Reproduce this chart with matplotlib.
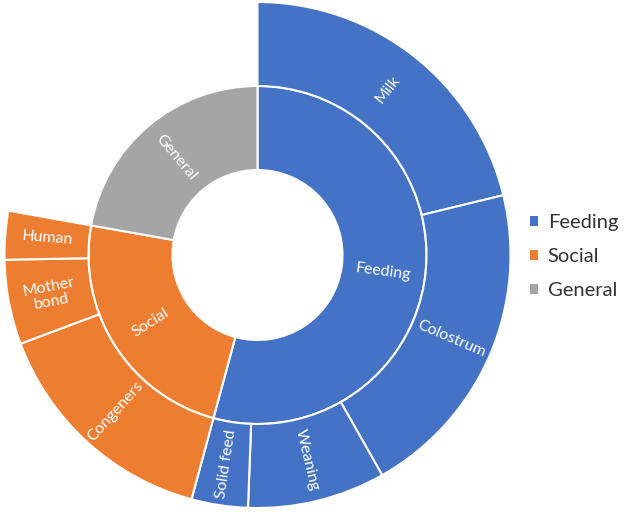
import matplotlib.pyplot as plt
from matplotlib.patches import Patch
import numpy as np

plt.rcParams['font.family'] = ['Lato', 'DejaVu Sans']

# inner ring
groups = ['Feeding', 'Social', 'General']
group_colors = ['#4472C4', '#ED7D31', '#A5A5A5']

# outer ring (share of total, %)
sub_labels = ['Milk', 'Colostrum', 'Weaning', 'Solid feed',
              'Congeners', 'Mother\nbond', 'Human']
sub_values = [21.2, 20.6, 8.8, 3.6, 15.1, 5.4, 3.1]
sub_parent = [0, 0, 0, 0, 1, 1, 1]
general_value = 22.2

group_values = [sum(v for v, p in zip(sub_values, sub_parent) if p == i) for i in range(2)]
group_values.append(general_value)

fig = plt.figure(figsize=(6.24, 5.12), dpi=100)
R = 253
cx, cy = 257.5, 255
ax = fig.add_axes([(cx - R) / 624, (512 - cy - R) / 512, 2 * R / 624, 2 * R / 512])

r_hole = 85 / R
r_mid = 169 / R

# inner ring
inner, _ = ax.pie(group_values, radius=r_mid, colors=group_colors,
                  startangle=90, counterclock=False,
                  wedgeprops=dict(width=r_mid - r_hole, edgecolor='white', linewidth=1.5))

# outer ring, last slot left empty for General
outer_vals = sub_values + [general_value]
outer_cols = [group_colors[p] for p in sub_parent] + ['white']
outer, _ = ax.pie(outer_vals, radius=1.0, colors=outer_cols,
                  startangle=90, counterclock=False,
                  wedgeprops=dict(width=1.0 - r_mid, edgecolor='white', linewidth=1.5))
outer[-1].set_visible(False)


def put_label(wedge, text, r):
    mid = (wedge.theta1 + wedge.theta2) / 2.0
    rot = mid % 360
    if rot > 180:
        rot -= 360
    if rot > 90:
        rot -= 180
    if rot < -90:
        rot += 180
    x = r * np.cos(np.deg2rad(mid))
    y = r * np.sin(np.deg2rad(mid))
    ax.text(x, y, text, color='white', fontsize=11.5, ha='center', va='center',
            rotation=rot, rotation_mode='anchor', linespacing=1.1)


for w, t in zip(inner, groups):
    put_label(w, t, (r_hole + r_mid) / 2)
for w, t in zip(outer[:-1], sub_labels):
    put_label(w, t, (r_mid + 1.0) / 2)

ax.set_xlim(-1, 1)
ax.set_ylim(-1, 1)
ax.set_aspect('auto')
ax.axis('off')

handles = [Patch(facecolor=c, edgecolor='none') for c in group_colors]
fig.legend(handles, groups, loc='center left', bbox_to_anchor=(530 / 624, 1 - 256.7 / 512),
           frameon=False, fontsize=14.5, handlelength=0.4, handleheight=0.4,
           handletextpad=0.48, labelspacing=0.85, borderpad=0, borderaxespad=0,
           labelcolor='#333333')

fig.savefig('out.png', dpi=100)
